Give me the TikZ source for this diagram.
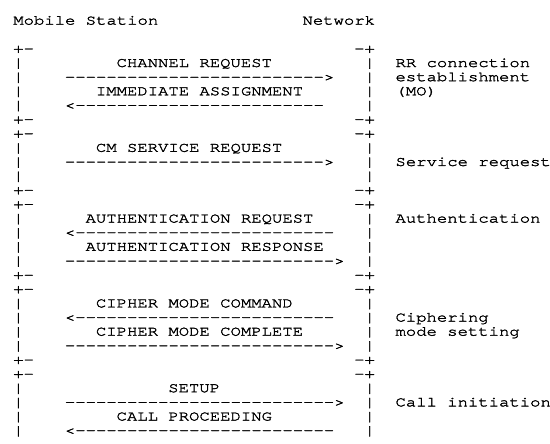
\documentclass[tikz,border=0pt]{standalone}
\usepackage{fontspec}
\setmonofont{TeX Gyre Cursor}[FakeStretch=1.233, FakeBold=2]
\usepackage{tikz}
\tikzstyle{txt} = [anchor=base west, inner sep=0pt, outer sep=0pt,
    font=\ttfamily\fontsize{14}{14}\selectfont]
\tikzstyle{grid} = [x=10.33pt, y=-14.14pt]

\begin{document}
\begin{tikzpicture}[grid]
    \useasboundingbox (-13.3pt,24.6pt) rectangle (536.7pt,-419.4pt);
    % Place nodes
    % Heads
    \node [txt] (ms) at (0,0) {Mobile Station};
    \node [txt] (net) at (28,0) {Network};

    % Brackets
    \foreach \r in {2,7,8,12,13,18,19,24,25} {
        \node [txt] (lcorner\r) at (0,\r) {+-};
        \node [txt] (rcorner\r) at (33,\r) {-+};
    }
    \foreach \r in {3,4,5,6,9,10,11,14,15,16,17,20,21,22,23,26,27,28,29} {
        \node [txt] (lbar\r) at (0,\r) {|};
        \node [txt] (rbar\r) at (34,\r) {|};
    }

    % Messages
    \node [txt] (chreq) at (10,3) {CHANNEL REQUEST};
    \node [txt] (chreqarr) at (5,4) {------------------------->};
    \node [txt] (imass) at (8,5) {IMMEDIATE ASSIGNMENT};
    \node [txt] (imassarr) at (5,6) {<------------------------};
    \node [txt] (cmreq) at (8,9) {CM SERVICE REQUEST};
    \node [txt] (cmreqarr) at (5,10) {------------------------->};
    \node [txt] (authreq) at (7,14) {AUTHENTICATION REQUEST};
    \node [txt] (authreqarr) at (5,15) {<-------------------------};
    \node [txt] (authresp) at (7,16) {AUTHENTICATION RESPONSE};
    \node [txt] (authresparr) at (5,17) {-------------------------->};
    \node [txt] (ciphcmd) at (8,20) {CIPHER MODE COMMAND};
    \node [txt] (ciphcmdarr) at (5,21) {<-------------------------};
    \node [txt] (ciphcpl) at (8,22) {CIPHER MODE COMPLETE};
    \node [txt] (ciphcplarr) at (5,23) {-------------------------->};
    \node [txt] (setup) at (15,26) {SETUP};
    \node [txt] (setuparr) at (5,27) {-------------------------->};
    \node [txt] (callproc) at (10,28) {CALL PROCEEDING};
    \node [txt] (callprocarr) at (5,29) {<-------------------------};

    % Phases
    \node [txt] (rr1) at (37,3) {RR connection};
    \node [txt] (rr2) at (37,4) {establishment};
    \node [txt] (rr3) at (37,5) {(MO)};
    \node [txt] (servreq) at (37,10) {Service request};
    \node [txt] (auth) at (37,14) {Authentication};
    \node [txt] (ciph1) at (37,21) {Ciphering};
    \node [txt] (ciph2) at (37,22) {mode setting};
    \node [txt] (callinit) at (37,27) {Call initiation};
\end{tikzpicture}
\end{document}
